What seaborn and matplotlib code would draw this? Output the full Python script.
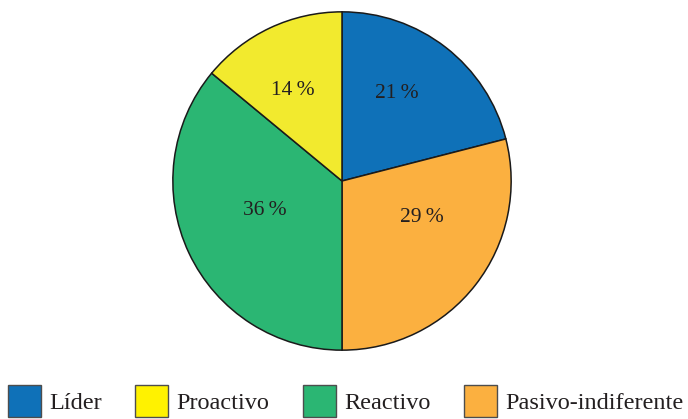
import matplotlib
matplotlib.use("Agg")
import matplotlib.pyplot as plt
from matplotlib.patches import Patch
import numpy as np
import seaborn as sns

# Data (clockwise from 12 o'clock)
pie_labels = ["Líder", "Pasivo-indiferente", "Reactivo", "Proactivo"]
pie_values = [21, 29, 36, 14]
pie_colors = ["#0f71b8", "#fbb040", "#2bb673", "#f2ea2e"]

legend_labels = ["Líder", "Proactivo", "Reactivo", "Pasivo-indiferente"]
legend_colors = ["#0f71b8", "#fff200", "#2bb673", "#fbb040"]

# label placement style (angle shift from wedge middle in degrees, radius fraction)
label_shift = [6, 13, -4, 3]
label_radius = [0.61, 0.52, 0.49, 0.61]

sns.set_theme(style="white")
plt.rcParams["font.family"] = ["Liberation Serif", "DejaVu Serif"]
text_color = "#231f20"

fig = plt.figure(figsize=(6.88, 4.19), dpi=100)
ax = fig.add_axes([172 / 688, 68 / 419, 340 / 688, 340 / 419])

wedges, _ = ax.pie(
    pie_values,
    colors=pie_colors,
    startangle=90,
    counterclock=False,
    wedgeprops=dict(edgecolor="#1a1a1a", linewidth=1.1),
)
ax.set_xlim(-1.005, 1.005)
ax.set_ylim(-1.005, 1.005)
ax.set_aspect("equal")

for w, v, sh, rr in zip(wedges, pie_values, label_shift, label_radius):
    mid = np.deg2rad((w.theta1 + w.theta2) / 2 + sh)
    ax.text(rr * np.cos(mid), rr * np.sin(mid), f"{v}\u2009%",
            ha="center", va="center", fontsize=15.5, color=text_color)

handles = [Patch(facecolor=c, edgecolor="#4d4d4d", linewidth=1.0) for c in legend_colors]
fig.legend(
    handles, legend_labels,
    loc="upper left", bbox_to_anchor=(8 / 688, 1 - 385 / 419),
    ncol=4, frameon=False, fontsize=17.5,
    handlelength=1.35, handleheight=1.65, handletextpad=0.33,
    columnspacing=1.4, borderpad=0, borderaxespad=0,
    labelcolor=text_color,
)

fig.savefig("out.png", dpi=100)
